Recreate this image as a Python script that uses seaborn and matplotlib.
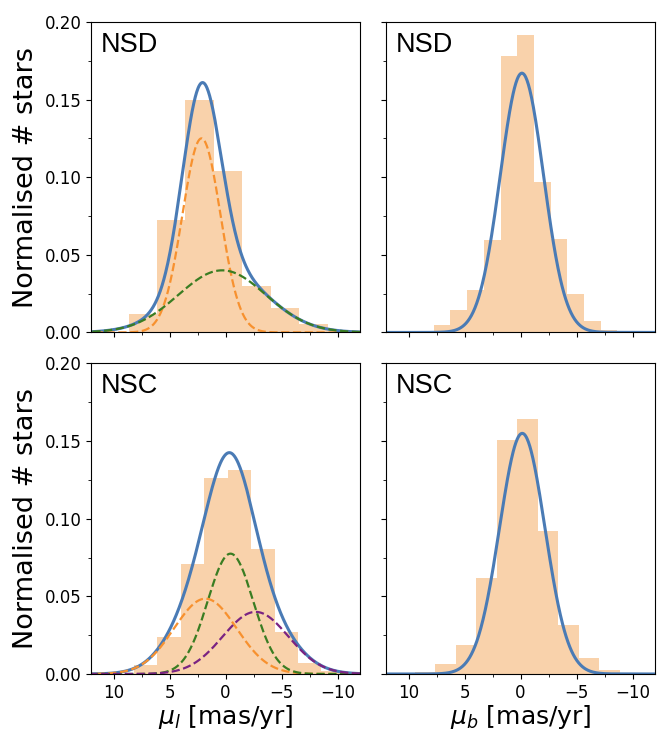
import matplotlib
matplotlib.use("Agg")
import matplotlib.pyplot as plt
from matplotlib.ticker import MultipleLocator
import numpy as np
import pandas as pd
import seaborn as sns

# histogram bin edges (increasing) and bar heights
nsd_l_edges = [-9.10, -6.56, -4.03, -1.49, 1.05, 3.58, 6.12, 8.66]
nsd_l_heights = [0.0056, 0.0155, 0.0301, 0.1039, 0.1497, 0.0727, 0.0116]

nsd_b_edges = [-8.65, -7.16, -5.66, -4.18, -2.68, -1.19, 0.30, 1.79, 3.29, 4.78, 6.27, 7.76]
nsd_b_heights = [0.0017, 0.0071, 0.0250, 0.0604, 0.0968, 0.1916, 0.1780, 0.0594, 0.0275, 0.0142, 0.0045]

nsc_l_edges = [-10.65, -8.56, -6.47, -4.38, -2.30, -0.21, 1.88, 3.97, 6.12, 8.21]
nsc_l_heights = [0.0017, 0.0073, 0.0270, 0.0803, 0.1312, 0.1262, 0.0706, 0.0238, 0.0060]

nsc_b_edges = [-10.68, -8.86, -7.04, -5.22, -3.37, -1.55, 0.30, 2.09, 3.94, 5.76, 7.61, 9.40]
nsc_b_heights = [0.0009, 0.0024, 0.0106, 0.0314, 0.0919, 0.1644, 0.1505, 0.0620, 0.0185, 0.0067, 0.0013]

# gaussian fit components: (amplitude, mean, sigma)
nsd_l_comps = [(0.125, 2.15, 1.70), (0.040, 0.30, 3.90)]
nsd_b_comps = [(0.167, -0.12, 1.93)]
nsc_l_comps = [(0.0485, 1.80, 2.79), (0.0775, -0.44, 2.03), (0.040, -2.68, 2.92)]
nsc_b_comps = [(0.155, -0.15, 2.03)]

comp_colors = ["#f7912f", "#3a7d22", "#7a2382"]
hist_color = "#f9d2ab"
total_color = "#4a7bb5"

panels = [
    ("NSD", nsd_l_edges, nsd_l_heights, nsd_l_comps),
    ("NSD", nsd_b_edges, nsd_b_heights, nsd_b_comps),
    ("NSC", nsc_l_edges, nsc_l_heights, nsc_l_comps),
    ("NSC", nsc_b_edges, nsc_b_heights, nsc_b_comps),
]


def gauss(x, a, mu, sig):
    return a * np.exp(-0.5 * ((x - mu) / sig) ** 2)


xs = np.linspace(-12, 12, 600)

fig, axes = plt.subplots(2, 2, figsize=(6.65, 7.31), dpi=100, sharex=True, sharey=True)
fig.subplots_adjust(left=0.137, right=0.985, top=0.970, bottom=0.078,
                    wspace=0.097, hspace=0.1)

for ax, (name, edges, heights, comps) in zip(axes.flat, panels):
    centers = [0.5 * (lo + hi) for lo, hi in zip(edges[:-1], edges[1:])]
    hist_df = pd.DataFrame({"v": centers, "w": heights})
    sns.histplot(data=hist_df, x="v", weights="w", bins=list(edges), stat="count",
                 color=hist_color, alpha=1, linewidth=0, ax=ax)

    total = np.zeros_like(xs)
    for a, mu, sig in comps:
        total += gauss(xs, a, mu, sig)
    sns.lineplot(x=xs, y=total, color=total_color, lw=2.2, ax=ax)

    if len(comps) > 1:
        for (a, mu, sig), c in zip(comps, comp_colors):
            sns.lineplot(x=xs, y=gauss(xs, a, mu, sig), color=c, lw=1.6,
                         linestyle="--", ax=ax)

    ax.text(0.035, 0.968, name, transform=ax.transAxes, ha="left", va="top",
            fontsize=19.5, family="Liberation Sans")
    ax.set_xlabel("")
    ax.set_ylabel("")
    ax.xaxis.set_minor_locator(MultipleLocator(2.5))
    ax.yaxis.set_minor_locator(MultipleLocator(0.025))
    ax.tick_params(labelsize=12)

axes[0, 0].set_xlim(12, -12)
axes[0, 0].set_ylim(0, 0.2)
axes[0, 0].set_xticks([10, 5, 0, -5, -10])
axes[0, 0].set_yticks([0.0, 0.05, 0.10, 0.15, 0.20])

for ax in axes[:, 0]:
    ax.set_ylabel("Normalised # stars", fontsize=19.5)
axes[1, 0].set_xlabel(r"$\mu_l$ [mas/yr]", fontsize=18, labelpad=1)
axes[1, 1].set_xlabel(r"$\mu_b$ [mas/yr]", fontsize=18, labelpad=1)

fig.savefig("out.png", dpi=100)
